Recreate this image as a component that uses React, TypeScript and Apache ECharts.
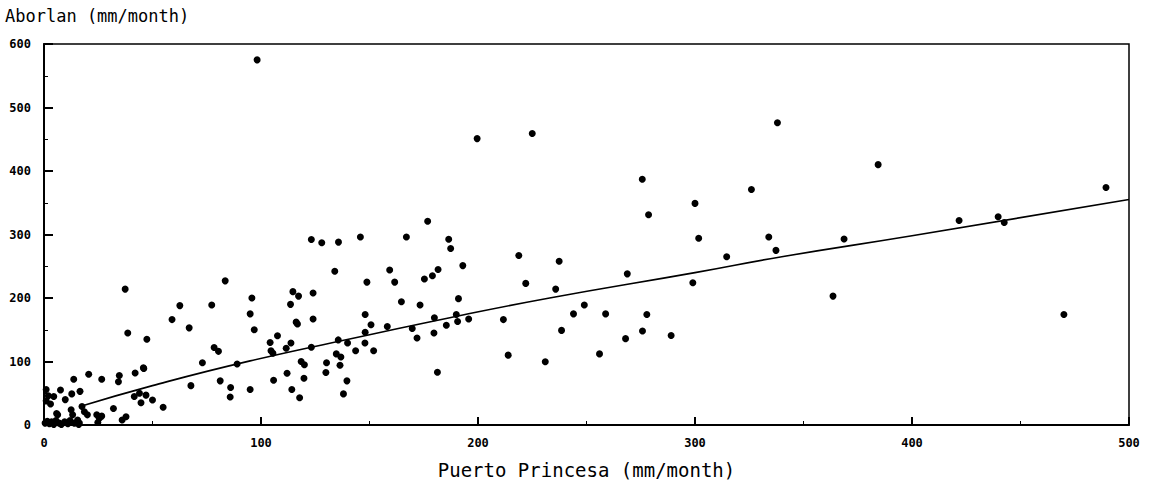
import React, { useEffect, useRef } from "react";
import * as echarts from "echarts";

const xTicks = [0, 100, 200, 300, 400, 500];
const yTicks = [0, 100, 200, 300, 400, 500, 600];
const xTitle = "Puerto Princesa (mm/month)";
const yTitle = "Aborlan (mm/month)";

// [Puerto Princesa, Aborlan] monthly rainfall pairs
const nearZero: number[][] = [
  [0.5, 3], [1.5, 6], [2.5, 2], [3.5, 5], [4.5, 1], [5.5, 7], [7, 3], [8, 1], [9.5, 5], [11, 2],
  [12, 7], [14, 3], [16, 1], [1, 56], [2, 46], [1, 38], [3, 33], [4.5, 45], [7.6, 55], [9.8, 40],
  [12.8, 49], [16.6, 53], [13.7, 72], [20.6, 80], [26.6, 72], [34.7, 78], [34.3, 68], [42, 82],
  [45.8, 90], [37.4, 214], [38.6, 145], [47.4, 135], [41.6, 45], [44, 50], [47, 47], [44.7, 35],
  [50, 39.5], [54.9, 28], [32, 26], [17.5, 29], [18.6, 21], [12.5, 24], [13.2, 16], [6.3, 16],
  [15.5, 8], [16.3, 3], [20, 16], [25.5, 10.5], [24.8, 4], [36, 8], [37.8, 13], [24.3, 16],
  [5.8, 18], [26.6, 14],
];
const midRange: number[][] = [
  [59, 166], [62.6, 188], [66.9, 153], [77.3, 189], [83.5, 227], [73, 98], [89, 96], [46, 89],
  [67.7, 62], [81.2, 69.5], [86, 59], [85.8, 44], [95, 56], [78.4, 122], [80.4, 116], [95.8, 200],
  [95, 175], [96.9, 150], [98.2, 575], [104.2, 130], [104.6, 117], [105.5, 113], [107.6, 140.5],
  [111.6, 121], [113.8, 129], [105.8, 70.5], [112, 81.5], [114.2, 56], [117.8, 43], [119.8, 73.6],
  [118.5, 100], [120, 95], [113.6, 190], [114.7, 210], [117.3, 203], [124, 208], [116.2, 162],
  [116.8, 159], [124, 167], [123.2, 122.5], [123.2, 292], [128, 287], [135.7, 288], [134, 242],
  [130.2, 98], [129.9, 82.6], [134.7, 112], [136.8, 107], [136.4, 94], [135.6, 134], [139.9, 129],
  [139.6, 69.5], [138, 49], [145.8, 296], [148.8, 225], [148, 174], [150.7, 158], [148, 146],
  [147.9, 129], [143.6, 117], [151.9, 117], [159.3, 244], [161.6, 225], [158.2, 155], [164.7, 194],
  [167, 296], [169.7, 152], [171.9, 137], [173.3, 189], [175.3, 230], [179, 235], [181.6, 245],
  [176.8, 321], [179.9, 169], [179.7, 145], [181.3, 83], [185.4, 157], [186.5, 292.6], [187.4, 278],
  [190, 174], [190.6, 163], [191, 199], [193, 251], [195.7, 167],
];
const highRange: number[][] = [
  [199.6, 451], [211.7, 166], [213.9, 110], [218.8, 267], [222, 223], [225, 459], [231, 99.5],
  [235.8, 214], [237.4, 258], [238.5, 149], [244, 175], [249, 189], [256, 112], [258.8, 175],
  [268, 136], [268.8, 238], [275.7, 387], [275.8, 148], [277.8, 174], [278.6, 331], [289, 141],
  [299, 224], [300, 349], [301.7, 294], [314.6, 265], [326, 371], [334, 296], [337.3, 275],
  [338, 476], [363.6, 203], [368.7, 293], [384.4, 410], [421.7, 322], [439.7, 328], [442.5, 319],
  [470, 174], [489.4, 374],
];
// fitted curve
const fitLine: number[][] = [
  [16.6, 29], [50, 62], [95, 101], [150, 142], [187, 169], [233, 200], [300, 240], [340, 265],
  [400, 298], [500, 355],
];

export default function App() {
  const ref = useRef<HTMLDivElement>(null);
  useEffect(() => {
    if (!ref.current) return;
    const chart = echarts.init(ref.current, undefined, { renderer: "svg" });
    const tickFont = {
      color: "#000",
      fontFamily: "DejaVu Sans Mono",
      fontWeight: "bold" as const,
      fontSize: 12,
    };
    const dot = {
      type: "scatter" as const,
      symbol: "circle",
      symbolSize: 7,
      itemStyle: { color: "#000", opacity: 1 },
    };
    chart.setOption({
      animation: false,
      backgroundColor: "#fff",
      grid: {
        left: 44,
        right: 23,
        top: 44,
        bottom: 66,
        show: true,
        borderColor: "#000",
        borderWidth: 1.5,
        backgroundColor: "transparent",
      },
      graphic: [
        {
          type: "text",
          left: 5,
          top: 7,
          style: {
            text: yTitle,
            fill: "#000",
            fontFamily: "DejaVu Sans Mono",
            fontSize: 17,
          },
        },
      ],
      xAxis: {
        type: "value",
        min: 0,
        max: 500,
        interval: 100,
        name: xTitle,
        nameLocation: "middle",
        nameGap: 35,
        nameTextStyle: { color: "#000", fontFamily: "DejaVu Sans Mono", fontSize: 19 },
        axisLine: { show: true, lineStyle: { color: "#000", width: 2 } },
        axisTick: { show: true, inside: true, length: 8, lineStyle: { color: "#000", width: 2 } },
        minorTick: { show: true, splitNumber: 2, length: 4, lineStyle: { color: "#000", width: 1 } },
        splitLine: { show: false },
        axisLabel: {
          ...tickFont,
          margin: 12,
          formatter: (v: number) => (xTicks.includes(v) ? String(v) : ""),
        },
      },
      yAxis: {
        type: "value",
        min: 0,
        max: 600,
        interval: 100,
        axisLine: { show: true, lineStyle: { color: "#000", width: 2 } },
        axisTick: { show: true, inside: true, length: 9, lineStyle: { color: "#000", width: 2 } },
        minorTick: { show: true, splitNumber: 2, length: 4, lineStyle: { color: "#000", width: 1 } },
        splitLine: { show: false },
        axisLabel: {
          ...tickFont,
          margin: 13,
          formatter: (v: number) => (yTicks.includes(v) ? String(v) : ""),
        },
      },
      series: [
        { ...dot, data: nearZero },
        { ...dot, data: midRange },
        { ...dot, data: highRange },
        {
          type: "line",
          data: fitLine,
          smooth: true,
          showSymbol: false,
          symbol: "none",
          lineStyle: { color: "#000", width: 1.6 },
          z: 3,
        },
      ],
    });
    return () => chart.dispose();
  }, []);
  return (
    <div
      ref={ref}
      style={{ position: "absolute", left: 0, top: 0, width: 1152, height: 491 }}
    />
  );
}
